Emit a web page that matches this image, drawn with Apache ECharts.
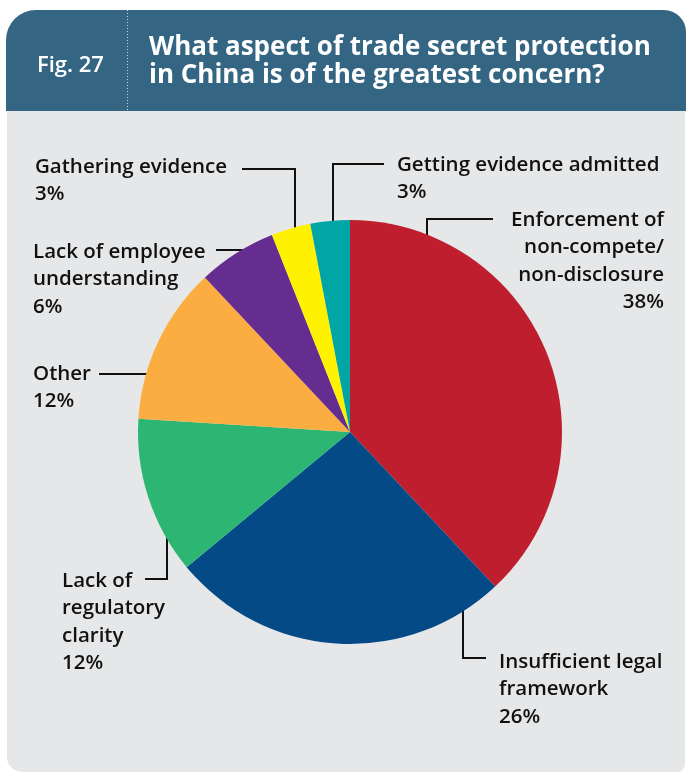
<!DOCTYPE html>
<html>
<head>
<meta charset="utf-8">
<script src="https://cdn.jsdelivr.net/npm/echarts@6/dist/echarts.min.js"></script>
<style>
  html, body { margin: 0; padding: 0; background: #ffffff; }
  #chart { width: 686px; height: 773px; }
</style>
</head>
<body>
<div id="chart"></div>
<script>
// Survey answers, clockwise from 12 o'clock
const categories = [
  'Enforcement of\nnon-compete/\nnon-disclosure',
  'Insufficient legal\nframework',
  'Lack of\nregulatory\nclarity',
  'Other',
  'Lack of employee\nunderstanding',
  'Gathering evidence',
  'Getting evidence admitted'
];
const shares = [38, 26, 12, 12, 6, 3, 3];
const sliceColors = ['#be1e2d', '#034a87', '#2db673', '#fbad41', '#652d90', '#fff200', '#00a6a6'];

// Label placement: text anchor (x, top), alignment, and leader path
// [anchor inside slice] -> [elbow] -> [end next to the text]
const labelPlacement = [
  { x: 664, y: 206, align: 'right', line: [[427, 254], [427, 219], [493, 219]] },
  { x: 499, y: 648, align: 'left',  line: [[463, 583], [463, 658], [486, 658]] },
  { x: 62,  y: 567, align: 'left',  line: [[167, 509], [167, 579], [145, 579]] },
  { x: 33,  y: 360, align: 'left',  line: [[169, 386], [169, 374], [99, 374]] },
  { x: 33,  y: 238, align: 'left',  line: [[250, 273], [250, 250], [216, 250]] },
  { x: 35,  y: 153, align: 'left',  line: [[295, 243], [295, 169], [242, 169]] },
  { x: 397, y: 151, align: 'left',  line: [[333, 238], [333, 164], [384, 164]] }
];

const chart = echarts.init(document.getElementById('chart'), null, { renderer: 'canvas' });

const labelFont = '"Open Sans", "DejaVu Sans", sans-serif';

chart.setOption({
  backgroundColor: '#ffffff',
  animation: false,
  graphic: [
    // header band
    { type: 'rect', shape: { x: 6, y: 10, width: 680, height: 101, r: [30, 22, 0, 0] },
      style: { fill: '#346683' }, z: 0 },
    // body panel
    { type: 'rect', shape: { x: 7, y: 111, width: 678, height: 661, r: [0, 0, 8, 15] },
      style: { fill: '#e6e7e8' }, z: 0 },
    // dotted divider in header
    { type: 'line', shape: { x1: 127.5, y1: 10, x2: 127.5, y2: 111 },
      style: { stroke: '#c9d6de', lineWidth: 1, lineDash: [1, 2] }, z: 1 },
    { type: 'text', x: 37, y: 66,
      style: { text: 'Fig. 27', fill: '#ffffff', font: '600 22px "Open Sans", sans-serif',
               verticalAlign: 'middle' }, z: 2 },
    { type: 'text', x: 149, y: 34,
      style: { text: 'What aspect of trade secret protection\nin China is of the greatest concern?',
               fill: '#ffffff', font: '700 26px "Open Sans", sans-serif', lineHeight: 28 }, z: 2 }
  ],
  series: [{
    type: 'pie',
    center: [350, 432],
    radius: 212,
    startAngle: 90,
    clockwise: true,
    avoidLabelOverlap: false,
    silent: true,
    itemStyle: { borderWidth: 0 },
    label: {
      show: true,
      position: 'outside',
      color: '#111111',
      fontFamily: labelFont,
      fontWeight: 600,
      fontSize: 20.5,
      lineHeight: 27.5,
      formatter: p => p.name + '\n' + p.value + '%'
    },
    labelLine: {
      show: true,
      lineStyle: { color: '#111111', width: 2 },
      length: 10, length2: 10
    },
    labelLayout: params => {
      const L = labelPlacement[params.dataIndex];
      return {
        x: L.x, y: L.y, align: L.align, verticalAlign: 'top',
        labelLinePoints: L.line
      };
    },
    data: categories.map((name, i) => ({
      name, value: shares[i], itemStyle: { color: sliceColors[i] }
    }))
  }]
});
</script>
</body>
</html>
